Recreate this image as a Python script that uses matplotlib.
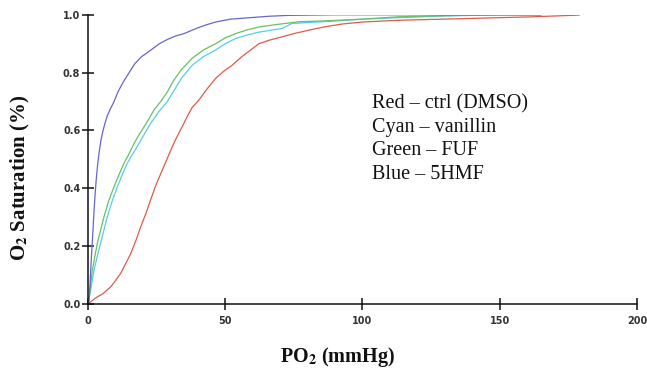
import matplotlib
matplotlib.use('Agg')
import matplotlib.pyplot as plt

plt.rcParams['mathtext.fontset'] = 'stix'

# oxygen equilibrium curves
blue_x = [0, 0.4, 0.7, 1, 1.6, 2.2, 2.6, 3, 3.5, 4, 4.7, 5.5, 6.2, 7, 8.2, 9.5, 11, 13, 15, 17, 19.5, 22.5, 26,
          29, 32, 35, 40, 43, 46.5, 52, 59, 66, 73, 90, 110, 130, 150, 165]
blue_y = [0, 0.01, 0.06, 0.12, 0.22, 0.32, 0.38, 0.43, 0.48, 0.52, 0.565, 0.60, 0.625, 0.65, 0.675, 0.70, 0.735,
          0.77, 0.80, 0.83, 0.855, 0.875, 0.90, 0.915, 0.927, 0.935, 0.955, 0.965, 0.975, 0.985, 0.99, 0.995,
          0.998, 1.0, 1.0, 1.0, 1.0, 1.0]

green_x = [0, 0.5, 1.6, 3.4, 5.8, 7.5, 9.5, 11.3, 13.1, 15, 16.8, 18.6, 20.4, 22.2, 24, 26.5, 28.9, 31, 34, 38,
           42, 46.5, 50, 53.8, 58, 62.3, 70, 77, 89, 100, 113, 130, 150, 165]
green_y = [0, 0.03, 0.117, 0.21, 0.30, 0.355, 0.405, 0.447, 0.486, 0.52, 0.555, 0.585, 0.612, 0.64, 0.67, 0.70,
           0.733, 0.77, 0.81, 0.85, 0.878, 0.90, 0.92, 0.935, 0.948, 0.958, 0.968, 0.976, 0.98, 0.985, 0.993,
           0.997, 1.0, 1.0]

cyan_x = [0, 1, 2.2, 3.4, 4.6, 5.8, 7, 8.8, 10.7, 12.5, 14.3, 16.4, 18.6, 20.7, 22.8, 25.8, 28.9, 31.5, 34, 38,
          42, 46.5, 50, 53.8, 58, 62.3, 70.8, 74.3, 89, 100, 113, 130, 150, 165]
cyan_y = [0, 0.05, 0.117, 0.165, 0.21, 0.255, 0.30, 0.355, 0.405, 0.447, 0.486, 0.52, 0.555, 0.59, 0.624, 0.665,
          0.70, 0.74, 0.78, 0.826, 0.855, 0.878, 0.90, 0.918, 0.93, 0.94, 0.953, 0.97, 0.978, 0.985, 0.99,
          0.996, 1.0, 1.0]

red_x = [0, 3.4, 5.5, 8.3, 10, 11.9, 13.5, 15.6, 17.5, 19.2, 21, 22.8, 24.5, 26.5, 28.3, 30.1, 32, 34, 36, 38,
         40.4, 43.5, 46.5, 49.5, 52.6, 56, 62.3, 66, 70.8, 75, 80.5, 86, 92.5, 100, 113, 137.6, 161.7, 179]
red_y = [0, 0.024, 0.035, 0.059, 0.08, 0.105, 0.135, 0.174, 0.22, 0.266, 0.31, 0.359, 0.405, 0.45, 0.49, 0.53,
         0.57, 0.607, 0.645, 0.68, 0.705, 0.745, 0.78, 0.805, 0.826, 0.855, 0.90, 0.912, 0.924, 0.935, 0.947,
         0.958, 0.968, 0.975, 0.981, 0.987, 0.993, 0.999]

legend_lines = ['Red \u2013 ctrl (DMSO)', 'Cyan \u2013 vanillin', 'Green \u2013 FUF', 'Blue \u2013 5HMF']

fig = plt.figure(figsize=(6.47, 3.70), dpi=100)
ax = fig.add_axes([0.136, 0.179, 0.8485, 0.781])

ax.plot(red_x, red_y, color='#e05a4a', lw=0.9)
ax.plot(cyan_x, cyan_y, color='#55ccee', lw=0.9)
ax.plot(green_x, green_y, color='#66c066', lw=0.9)
ax.plot(blue_x, blue_y, color='#6666cc', lw=0.9)

ax.set_xlim(0, 200)
ax.set_ylim(0, 1.0)
ax.set_xticks([0, 50, 100, 150, 200])
ax.set_yticks([0.0, 0.2, 0.4, 0.6, 0.8, 1.0])
ax.set_yticklabels(['0.0', '0.2', '0.4', '0.6', '0.8', '1.0'])

for s in ['top', 'right']:
    ax.spines[s].set_visible(False)
for s in ['left', 'bottom']:
    ax.spines[s].set_linewidth(1.1)
    ax.spines[s].set_color('#111111')
    ax.spines[s].set_clip_on(False)

ax.tick_params(axis='x', direction='inout', length=8, width=1.1, pad=4.5, labelsize=7, colors='#111111')
ax.tick_params(axis='y', direction='inout', length=8, width=1.1, pad=1.5, labelsize=7, colors='#111111')
for lab in ax.get_xticklabels() + ax.get_yticklabels():
    lab.set_fontweight('bold')
    lab.set_color('#333333')

for i, t in enumerate(legend_lines):
    ax.text(103.5, 0.676 - 0.081 * i, t, fontsize=14.5, family='Liberation Serif', color='#111111', va='baseline')

fig.text(0.031, 0.519, r'O$_{\mathbf{2}}$ Saturation (%)', rotation=90, ha='center', va='center',
         fontsize=15, family='Liberation Serif', fontweight='bold', color='#111111')
fig.text(0.5215, 0.035, r'PO$_{\mathbf{2}}$ (mmHg)', ha='center', va='center',
         fontsize=14.5, family='Liberation Serif', fontweight='bold', color='#111111')

fig.savefig('out.png', dpi=100)
